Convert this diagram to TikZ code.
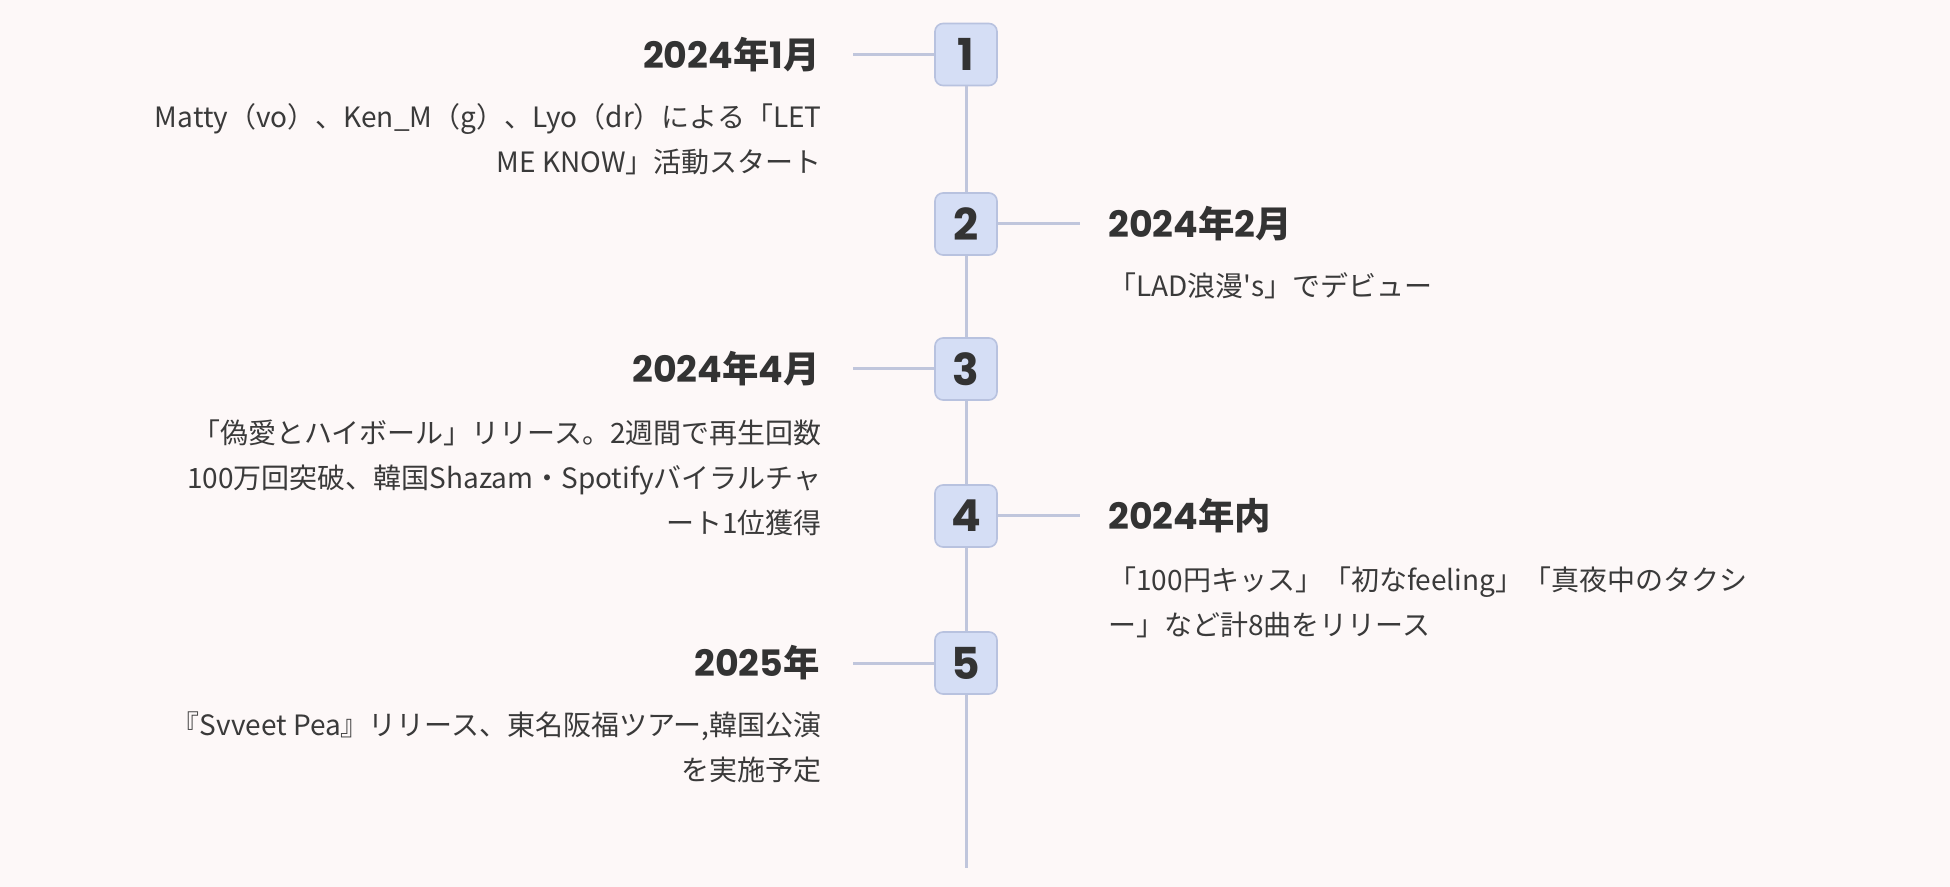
\documentclass[tikz,border=0pt]{standalone}
\usepackage{fontspec}
\setmainfont{Noto Sans CJK JP}
\newfontfamily\plainfont{Noto Sans CJK JP}
\newfontfamily\popfont{Poppins}
\definecolor{bgc}{HTML}{FDF8F8}
\definecolor{boxfill}{HTML}{D5DEF5}
\definecolor{boxline}{HTML}{B8C2DF}
\definecolor{linec}{HTML}{C0C6DC}
\definecolor{textc}{HTML}{333333}
\definecolor{bodyc}{HTML}{3A3A3A}
\begin{document}
\begin{tikzpicture}[x=0.5pt,y=-0.5pt,
  numbox/.style={draw=boxline, fill=boxfill, rounded corners=4pt, line width=0.8pt,
    minimum width=31pt, minimum height=31pt, inner sep=0pt,
    font=\popfont\bfseries\fontsize{22}{22}\selectfont, text=textc},
  title/.style={font=\bfseries\fontsize{18.2}{18.2}\selectfont, text=textc, inner sep=0pt},
  body/.style={font=\fontsize{14}{22.5}\selectfont, text=bodyc, inner sep=0pt},
  conn/.style={draw=linec, line width=1.5pt}]
\fill[bgc] (0,0) rectangle (1950,887);
\useasboundingbox (0,0) rectangle (1950,887);
% boxes
\node[numbox] (n1) at (966,54.5) {1};
\node[numbox] (n2) at (966,224) {2};
\node[numbox] (n3) at (966,369) {3};
\node[numbox] (n4) at (966,516) {4};
\node[numbox] (n5) at (966,663) {5};
% free ends
\coordinate (l1) at (853,54.5);
\coordinate (r2) at (1080,224);
\coordinate (l3) at (853,369);
\coordinate (r4) at (1080,516);
\coordinate (l5) at (853,663);
\coordinate (tail) at (966,868);
% spine
\draw[conn] (n1.south) -- (n2.north);
\draw[conn] (n2.south) -- (n3.north);
\draw[conn] (n3.south) -- (n4.north);
\draw[conn] (n4.south) -- (n5.north);
\draw[conn] (n5.south) -- (tail);
% connectors
\draw[conn] (l1) -- (n1.west);
\draw[conn] (n2.east) -- (r2);
\draw[conn] (l3) -- (n3.west);
\draw[conn] (n4.east) -- (r4);
\draw[conn] (l5) -- (n5.west);
% titles
\node[title, anchor=east] (t1) at (820,54.5) {{\popfont 2024}年{\popfont 1}月};
\node[title, anchor=west] (t2) at (1108,224) {{\popfont 2024}年{\popfont 2}月};
\node[title, anchor=east] (t3) at (820,369) {{\popfont 2024}年{\popfont 4}月};
\node[title, anchor=west] (t4) at (1108,516) {{\popfont 2024}年内};
\node[title, anchor=east] (t5) at (820,663) {{\popfont 2025}年};
% bodies
\node[body, anchor=north east, align=right] (b1) at (822,103)
  {Matty（vo）、Ken\_M（g）、Lyo（dr）による「LET\\ME KNOW」活動スタート};
\node[body, anchor=north west, align=left] (b2) at (1108,272)
  {「LAD浪漫{\plainfont '}s」でデビュー};
\node[body, anchor=north east, align=right] (b3) at (822,419)
  {「偽愛とハイボール」リリース。2週間で再生回数\\100万回突破、韓国Shazam・Spotifyバイラルチャ\\ート1位獲得};
\node[body, anchor=north west, align=left] (b4) at (1108,566)
  {「100円キッス」「初なfeeling」「真夜中のタクシ\\ー」など計8曲をリリース};
\node[body, anchor=north east, align=right] (b5) at (822,711)
  {『Svveet Pea』リリース、東名阪福ツアー,韓国公演\\を実施予定};
\end{tikzpicture}
\end{document}
